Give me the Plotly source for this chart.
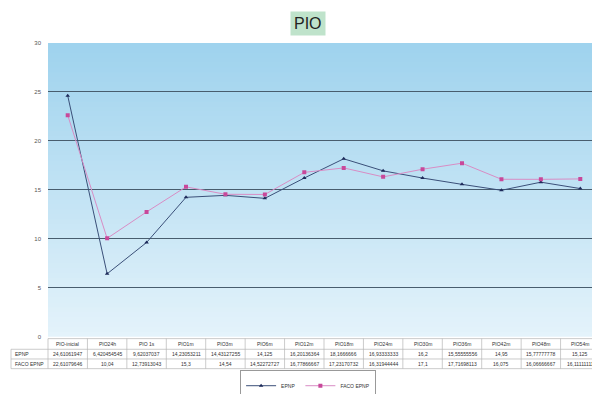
import plotly.graph_objects as go

categories = ["PIO-inicial", "PIO24h", "PIO 1s", "PIO1m", "PIO3m", "PIO6m", "PIO12m",
              "PIO18m", "PIO24m", "PIO30m", "PIO36m", "PIO42m", "PIO48m", "PIO54m"]
epnp = [24.61061947, 6.420454545, 9.62037037, 14.23053211, 14.43127255, 14.125,
        16.20136364, 18.1666666, 16.93333333, 16.2, 15.55555556, 14.95, 15.77777778, 15.125]
faco_epnp = [22.61079646, 10.04, 12.73913043, 15.3, 14.54, 14.52272727,
             16.77866667, 17.23170732, 16.31944444, 17.1, 17.71698113, 16.075, 16.06666667, 16.11111111]
epnp_labels = ["24,61061947", "6,420454545", "9,62037037", "14,23053211", "14,43127255", "14,125",
               "16,20136364", "18,1666666", "16,93333333", "16,2", "15,55555556", "14,95", "15,77777778", "15,125"]
faco_labels = ["22,61079646", "10,04", "12,73913043", "15,3", "14,54", "14,52272727",
               "16,77866667", "17,23170732", "16,31944444", "17,1", "17,71698113", "16,075", "16,06666667", "16,11111111"]
series_names = ["EPNP", "FACO EPNP"]
y_ticks = [0, 5, 10, 15, 20, 25, 30]

W, H = 600, 394
x0, x1 = 40, 592
y_top, y_bot = 36, 339

fig = go.Figure()
fig.add_trace(go.Scatter(x=categories, y=epnp, name=series_names[0], mode="lines+markers",
                         line=dict(color="#3a4f78", width=1),
                         marker=dict(symbol="triangle-up", size=4, color="#1d2a5a")))
fig.add_trace(go.Scatter(x=categories, y=faco_epnp, name=series_names[1], mode="lines+markers",
                         line=dict(color="#d88cc4", width=1),
                         marker=dict(symbol="square", size=4, color="#c8489a")))

shapes = []
annotations = []

def px(x):
    return x / W

def py(y):
    return (H - y) / H

# gradient background
n = 60
top = (159, 211, 238)
bot = (228, 243, 251)
for i in range(n):
    t = i / (n - 1)
    c = tuple(int(top[k] + (bot[k] - top[k]) * t) for k in range(3))
    shapes.append(dict(type="rect", xref="x domain", yref="y domain",
                       x0=0, x1=1, y0=max(0, 1 - (i + 1.6) / n), y1=1 - i / n,
                       fillcolor="rgb(%d,%d,%d)" % c, line=dict(width=0), layer="below"))

# data table drawn under the plot
row_y = [341, 352, 362, 372]
label_x = 3
col_w = (x1 - x0) / len(categories)
grid = dict(color="#b5b5b5", width=0.7)
shapes.append(dict(type="line", xref="paper", yref="paper", x0=px(x0), x1=px(x1),
                   y0=py(row_y[0]), y1=py(row_y[0]), line=grid))
for yy in row_y[1:]:
    shapes.append(dict(type="line", xref="paper", yref="paper", x0=px(label_x), x1=px(x1),
                       y0=py(yy), y1=py(yy), line=grid))
shapes.append(dict(type="line", xref="paper", yref="paper", x0=px(label_x), x1=px(label_x),
                   y0=py(row_y[1]), y1=py(row_y[3]), line=grid))
for j in range(len(categories) + 1):
    xx = x0 + j * col_w
    shapes.append(dict(type="line", xref="paper", yref="paper", x0=px(xx), x1=px(xx),
                       y0=py(row_y[0]), y1=py(row_y[3]), line=grid))

tfont = dict(size=5, color="#333", family="Liberation Sans")
for j, cat in enumerate(categories):
    cx = x0 + (j + 0.5) * col_w
    for r, txt in enumerate([cat, epnp_labels[j], faco_labels[j]]):
        annotations.append(dict(text=txt, xref="paper", yref="paper", x=px(cx),
                                y=py((row_y[r] + row_y[r + 1]) / 2), xanchor="center",
                                yanchor="middle", showarrow=False, font=tfont))
for r, name in enumerate(series_names):
    annotations.append(dict(text=name, xref="paper", yref="paper", x=px(label_x + 2),
                            y=py((row_y[r + 1] + row_y[r + 2]) / 2), xanchor="left",
                            yanchor="middle", showarrow=False, font=tfont))

annotations.append(dict(text="PIO", xref="paper", yref="paper", x=0.5, y=py(16),
                        xanchor="center", yanchor="middle", showarrow=False,
                        font=dict(size=16, color="#222", family="Liberation Sans"),
                        bgcolor="#bfe3cb", borderpad=3))

fig.update_layout(
    width=W, height=H, margin=dict(l=0, r=0, t=0, b=0),
    paper_bgcolor="white", plot_bgcolor="rgba(0,0,0,0)",
    font=dict(family="Liberation Sans", size=6, color="#555"),
    showlegend=True,
    legend=dict(orientation="h", x=0.5, xanchor="center", y=py(374), yanchor="top",
                bordercolor="#555", borderwidth=0.6, font=dict(size=5, color="#333"),
                itemwidth=30, bgcolor="white", tracegroupgap=0),
    xaxis=dict(domain=[px(x0), px(x1)], showticklabels=False, showgrid=False,
               zeroline=False, showline=False, ticks="", range=[-0.5, len(categories) - 0.5],
               automargin=False),
    yaxis=dict(domain=[py(y_bot), py(y_top)], range=[0, 30], tickvals=y_ticks,
               showgrid=True, gridcolor="#485d6e", gridwidth=1, zeroline=False,
               showline=False, ticks="", tickfont=dict(size=6, color="#555"),
               automargin=False, ticklabelstandoff=6),
    shapes=shapes,
    annotations=annotations,
)

fig.write_html("out.html")
